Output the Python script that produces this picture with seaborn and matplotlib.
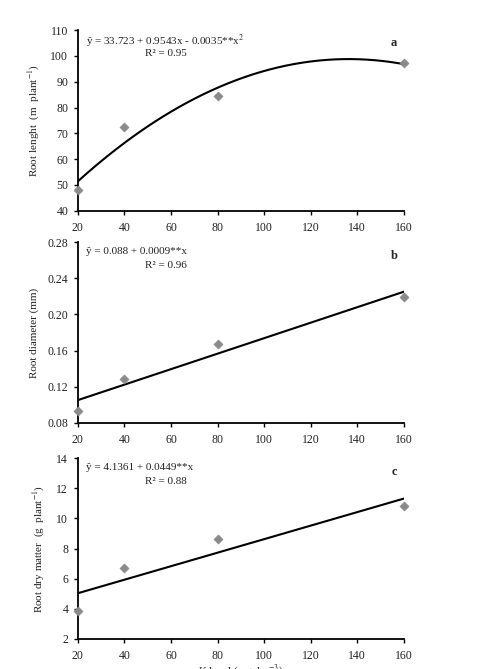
import numpy as np
import pandas as pd
import matplotlib
matplotlib.use('Agg')
import matplotlib.pyplot as plt
import seaborn as sns

sns.set_style('white')
plt.rcParams['font.family'] = ['Liberation Serif', 'DejaVu Serif']
plt.rcParams['mathtext.fontset'] = 'stix'

# K levels (mg dm-3)
k_level = [20, 40, 80, 160]

root_length = [48.1, 72.6, 84.5, 97.1]
root_diameter = [0.093, 0.129, 0.167, 0.219]
root_dry_matter = [3.88, 6.71, 8.63, 10.82]

# regression coefficients (intercept, linear, quadratic)
coef_length = [33.723, 0.9543, -0.0035]
coef_diameter = [0.088, 0.000857, 0.0]
coef_dry_matter = [4.1361, 0.0449, 0.0]

eq_labels = ['ŷ = 33.723 + 0.9543x - 0.0035**x$^2$',
             'ŷ = 0.088 + 0.0009**x',
             'ŷ = 4.1361 + 0.0449**x']
r2_labels = ['R² = 0.95', 'R² = 0.96', 'R² = 0.88']
panel_letters = ['a', 'b', 'c']
y_labels = ['Root lenght  (m  plant$^{-1}$)',
            'Root diameter (mm)',
            'Root dry matter  (g  plant$^{-1}$)']
y_ticks = [[40, 50, 60, 70, 80, 90, 100, 110],
           [0.08, 0.12, 0.16, 0.20, 0.24, 0.28],
           [2, 4, 6, 8, 10, 12, 14]]
y_fmt = ['{:.0f}', '{:.2f}', '{:.0f}']
x_ticks = [20, 40, 60, 80, 100, 120, 140, 160]

fig = plt.figure(figsize=(4.9, 6.69), dpi=100)
left, width = 0.159, 0.665
bottoms = [0.685, 0.368, 0.045]
height = 0.270
letter_y = [0.928, 0.922, 0.923]
eq_y = [0.985, 0.975, 0.975]
ylabel_x = [-0.110, -0.120, -0.095]

series = [root_length, root_diameter, root_dry_matter]
coefs = [coef_length, coef_diameter, coef_dry_matter]

for i in range(3):
    ax = fig.add_axes([left, bottoms[i], width, height])
    xs = np.linspace(k_level[0], k_level[-1], 200)
    c = coefs[i]
    fit = pd.DataFrame({'x': xs, 'y': c[0] + c[1] * xs + c[2] * xs ** 2})
    obs = pd.DataFrame({'x': k_level, 'y': series[i]})
    sns.lineplot(data=fit, x='x', y='y', color='black', lw=1.5, ax=ax)
    sns.scatterplot(data=obs, x='x', y='y', marker='D', s=22,
                    color='#8a8a8a', edgecolor='#8a8a8a', ax=ax,
                    zorder=3, clip_on=False)
    ax.set_xlim(20, 160)
    ax.set_ylim(y_ticks[i][0], y_ticks[i][-1])
    ax.set_xticks(x_ticks)
    ax.set_yticks(y_ticks[i])
    ax.set_yticklabels([y_fmt[i].format(t) for t in y_ticks[i]])
    for s in ['top', 'right']:
        ax.spines[s].set_visible(False)
    for s in ['left', 'bottom']:
        ax.spines[s].set_color('black')
        ax.spines[s].set_linewidth(1.3)
    ax.tick_params(axis='both', direction='out', length=3, width=1,
                   color='black', labelsize=8.5, labelcolor='#222222',
                   bottom=True, left=True)
    ax.tick_params(axis='x', pad=5)
    ax.tick_params(axis='y', pad=4)
    ax.set_xlabel('')
    ax.set_ylabel(y_labels[i], fontsize=8, color='#222222')
    ax.yaxis.set_label_coords(ylabel_x[i], 0.5)
    ax.text(0.025, eq_y[i], eq_labels[i], transform=ax.transAxes,
            fontsize=8, va='top', ha='left', color='#222222')
    ax.text(0.27, 0.895, r2_labels[i], transform=ax.transAxes,
            fontsize=8, va='top', ha='center', color='#222222')
    ax.text(0.97, letter_y[i], panel_letters[i], transform=ax.transAxes,
            fontsize=9, fontweight='bold', va='center', ha='center')
    if i == 2:
        ax.set_xlabel('K level (mg dm$^{-3}$)', fontsize=8,
                      color='#222222')
        ax.xaxis.set_label_coords(0.5, -0.128)

fig.savefig('out.png', dpi=100)
